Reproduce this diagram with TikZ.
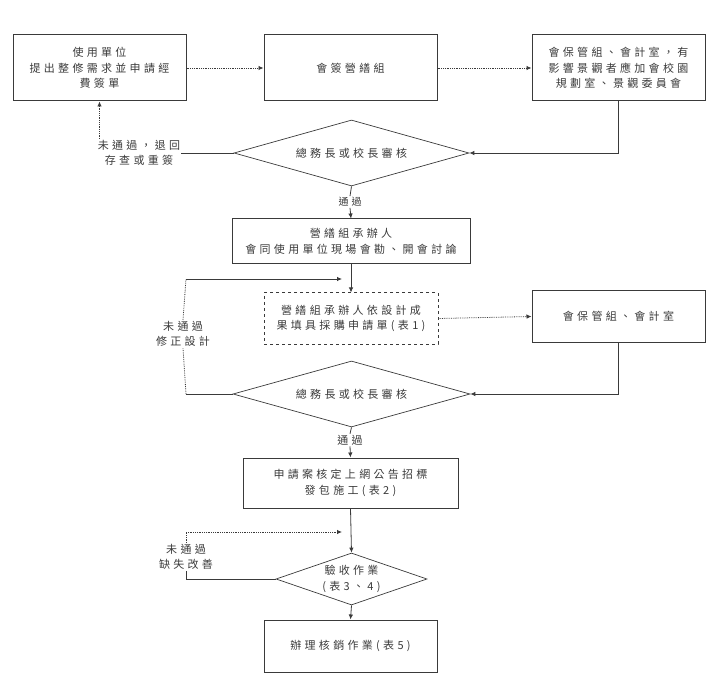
\documentclass[tikz,border=0pt]{standalone}
\usepackage{fontspec}
\newfontfamily\cjk[LetterSpace=30]{Noto Sans CJK TC}
\usetikzlibrary{shapes.geometric,arrows.meta}
\definecolor{ink}{HTML}{3A3A3A}
\begin{document}
\begin{tikzpicture}[x=1pt,y=-1pt,
 txt/.style={font=\cjk\fontsize{11}{15.5}\selectfont, text=ink, align=center},
 box/.style={txt, draw=ink, line width=1pt, rectangle, inner sep=0pt},
 dia/.style={txt, draw=ink, line width=0.7pt, diamond, inner sep=0pt},
 lab/.style={txt, inner sep=1pt},
 small/.style={lab, font=\cjk\fontsize{10}{13}\selectfont},
 arr/.style={draw=ink, line width=0.8pt, -{Latex[length=5pt,width=4.5pt]}},
 ln/.style={draw=ink, line width=0.8pt},
 dt/.style={densely dotted}
]
\useasboundingbox (0,0) rectangle (720,676);
% row 1
\node[box, minimum width=173pt, minimum height=66pt] (b1) at (99.5,68) {使用單位\\提出整修需求並申請經\\費簽單};
\node[box, minimum width=173pt, minimum height=66pt] (b2) at (350.5,68) {會簽營繕組};
\node[box, minimum width=173pt, minimum height=66pt] (b3) at (618.5,68) {會保管組、會計室，有\\影響景觀者應加會校園\\規劃室、景觀委員會};
\node[dia, aspect=3.56, minimum width=235pt, minimum height=66pt] (d1) at (351.5,153) {總務長或校長審核};
\node[lab] (l1) at (139,153) {未通過，退回\\存查或重簽};
\node[small] (p1) at (350,202) {通過};
\node[box, minimum width=238pt, minimum height=45pt] (b4) at (351,241.5) {營繕組承辦人\\會同使用單位現場會勘、開會討論};
\node[box, dashed, minimum width=174pt, minimum height=51pt] (b5) at (351,318.5) {營繕組承辦人依設計成\\果填具採購申請單(表1)};
\node[box, minimum width=173pt, minimum height=51pt] (b6) at (618.5,316.5) {會保管組、會計室};
\node[dia, aspect=3.59, minimum width=237pt, minimum height=66pt] (d2) at (351.5,394) {總務長或校長審核};
\node[lab] (l2) at (183,334) {未通過\\修正設計};
\node[lab] (p2) at (350,440) {通過};
\node[box, minimum width=215pt, minimum height=50pt] (b7) at (350.5,483) {申請案核定上網公告招標\\發包施工(表2)};
\node[dia, aspect=2.9, minimum width=151pt, minimum height=52pt] (d3) at (351.5,579) {驗收作業\\(表3、4)};
\node[lab] (l3) at (186,557) {未通過\\缺失改善};
\node[box, minimum width=173pt, minimum height=52pt] (b8) at (350.5,646) {辦理核銷作業(表5)};
% helper coordinates
\coordinate (c2a) at (186,394);
\coordinate (c2b) at (186,279);
\coordinate (c2e) at (342,279);
\coordinate (c3a) at (186,579);
\coordinate (c3b) at (186,532);
\coordinate (c3e) at (342,532);
% connectors
\draw[arr, dt] (b1.east) -- (b2.west);
\draw[arr, dt] (b2.east) -- (b3.west);
\draw[arr] (b3.south) |- (d1.east);
\draw[ln] (d1.west) -- (l1.east);
\draw[arr, dt] (b1.south |- l1.north) -- (b1.south);
\draw[ln] (d1.south) -- (p1.north);
\draw[arr] (p1.south) -- (b4.north);
\draw[arr] (b4.south) -- (b5.north);
\draw[arr, dt] (b5.east) -- (b6.west);
\draw[arr] (b6.south) |- (d2.east);
\draw[ln] (d2.west) -- (c2a);
\draw[ln, dt] (c2a) -- (l2.south);
\draw[ln, dt] (l2.north) -- (c2b);
\draw[arr] (c2b) -- (c2e);
\draw[ln] (d2.south) -- (p2.north);
\draw[arr] (p2.south) -- (b7.north);
\draw[arr] (b7.south) -- (d3.north);
\draw[ln] (d3.west) -- (c3a) -- (l3.south);
\draw[ln, dt] (l3.north) -- (c3b);
\draw[arr, dt] (c3b) -- (c3e);
\draw[arr] (d3.south) -- (b8.north);
\end{tikzpicture}
\end{document}
